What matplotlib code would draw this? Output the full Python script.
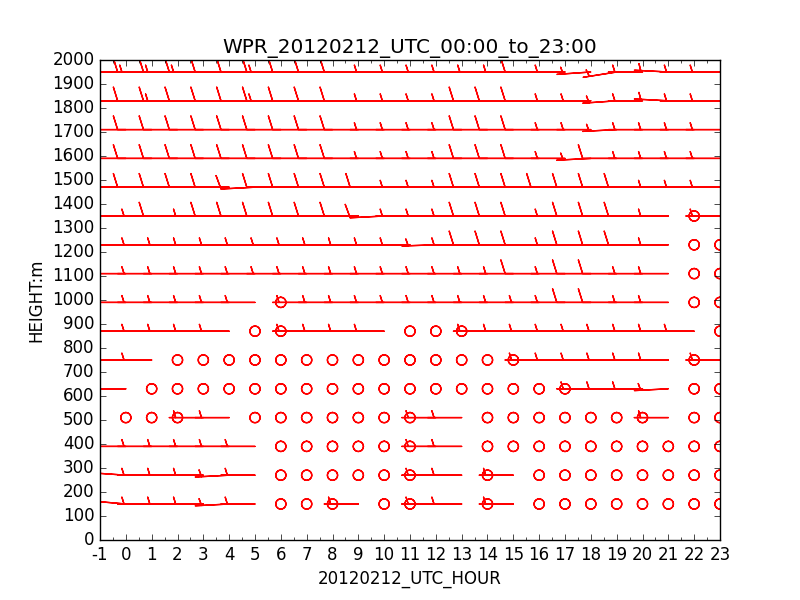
import numpy as np
import matplotlib
matplotlib.use('Agg')
from matplotlib import pyplot as plt
from matplotlib.ticker import MultipleLocator

plt.style.use('classic')
plt.rcParams['axes.unicode_minus'] = False

hours = list(range(24))
heights = [150, 270, 390, 510, 630, 750, 870, 990, 1110, 1230, 1350, 1470, 1590, 1710, 1830, 1950]

# wind speed per level, hour 0..23 (0 = calm)
spd_150 = [5, 5, 5, 5, 5, 5, 0, 0, 0, 5, 0, 0, 5, 5, 0, 5, 0, 0, 0, 0, 0, 0, 0, 0]
spd_270 = [5, 5, 5, 5, 5, 5, 0, 0, 0, 0, 0, 0, 5, 5, 0, 5, 0, 0, 0, 0, 0, 0, 0, 0]
spd_390 = [5, 5, 5, 5, 5, 5, 0, 0, 0, 0, 0, 0, 5, 5, 0, 0, 0, 0, 0, 0, 0, 0, 0, 0]
spd_510 = [0, 0, 0, 5, 5, 0, 0, 0, 0, 0, 0, 0, 5, 5, 0, 0, 0, 0, 0, 0, 0, 5, 0, 0]
spd_630 = [5, 0, 0, 0, 0, 0, 0, 0, 0, 0, 0, 0, 0, 0, 0, 0, 0, 0, 5, 5, 5, 5, 0, 0]
spd_750 = [5, 5, 0, 0, 0, 0, 0, 0, 0, 0, 0, 0, 0, 0, 0, 0, 5, 5, 5, 5, 5, 5, 0, 5]
spd_870 = [5, 5, 5, 5, 5, 0, 0, 5, 5, 5, 5, 0, 0, 0, 5, 5, 5, 5, 5, 5, 5, 5, 5, 0]
spd_990 = [5, 5, 5, 5, 5, 5, 0, 5, 5, 5, 5, 5, 5, 5, 5, 5, 5, 5, 10, 10, 5, 5, 0, 0]
spd_1110 = [5, 5, 5, 5, 5, 5, 5, 5, 5, 5, 5, 5, 5, 5, 5, 5, 10, 5, 10, 10, 5, 5, 0, 0]
spd_1230 = [5, 5, 5, 5, 5, 5, 5, 5, 5, 5, 5, 5, 5, 5, 10, 10, 10, 5, 10, 10, 10, 5, 0, 0]
spd_1350 = [10, 5, 10, 5, 10, 10, 10, 10, 10, 10, 10, 5, 5, 5, 10, 10, 10, 5, 10, 10, 10, 5, 0, 5]
spd_1470 = [10, 10, 10, 10, 10, 10, 10, 10, 10, 10, 10, 5, 5, 5, 10, 10, 10, 10, 10, 10, 10, 5, 5, 5]
spd_1590 = [10, 10, 10, 10, 10, 10, 10, 10, 10, 10, 5, 5, 5, 5, 10, 10, 10, 5, 5, 10, 5, 5, 5, 5]
spd_1710 = [10, 10, 10, 10, 10, 10, 10, 10, 10, 10, 5, 5, 5, 5, 10, 10, 10, 5, 5, 5, 5, 5, 5, 5]
spd_1830 = [10, 10, 15, 10, 10, 10, 15, 10, 10, 10, 5, 5, 5, 5, 10, 10, 10, 5, 5, 5, 5, 5, 5, 5]
spd_1950 = [15, 15, 15, 15, 10, 10, 15, 10, 10, 10, 5, 5, 5, 5, 5, 5, 10, 5, 5, 5, 5, 5, 5, 5]

speeds = [spd_150, spd_270, spd_390, spd_510, spd_630, spd_750, spd_870, spd_990,
          spd_1110, spd_1230, spd_1350, spd_1470, spd_1590, spd_1710, spd_1830, spd_1950]

# wind direction (deg, from): westerly except these (height, hour, dir)
dir_default = 270.0
dir_changes = [(150, 0, 275), (270, 0, 274), (150, 4, 267), (270, 4, 267),
               (630, 21, 267), (1950, 19, 261), (1950, 18, 266), (1950, 21, 273),
               (1830, 19, 266), (1830, 21, 273), (1710, 19, 267), (1590, 18, 267),
               (1470, 5, 267), (1350, 10, 267), (1230, 12, 268)]

wdir = np.full((len(heights), len(hours)), dir_default)
for h, t, d in dir_changes:
    wdir[heights.index(h), hours.index(t)] = d

X, Y = np.meshgrid(hours, heights)
S = np.array(speeds, dtype=float)
rad = np.deg2rad(wdir)
U = -S * np.sin(rad)
V = -S * np.cos(rad)

fig = plt.figure(figsize=(8, 6))
ax = fig.add_subplot(111)
ax.barbs(X, Y, U, V, color='r')
ax.set_xlim(-1, 23)
ax.set_ylim(0, 2000)
ax.xaxis.set_major_locator(MultipleLocator(1))
ax.xaxis.set_minor_locator(MultipleLocator(0.5))
ax.yaxis.set_major_locator(MultipleLocator(100))
ax.set_title('WPR_20120212_UTC_00:00_to_23:00')
ax.set_xlabel('20120212_UTC_HOUR')
ax.set_ylabel('HEIGHT:m')
fig.savefig('out.png', dpi=100)
